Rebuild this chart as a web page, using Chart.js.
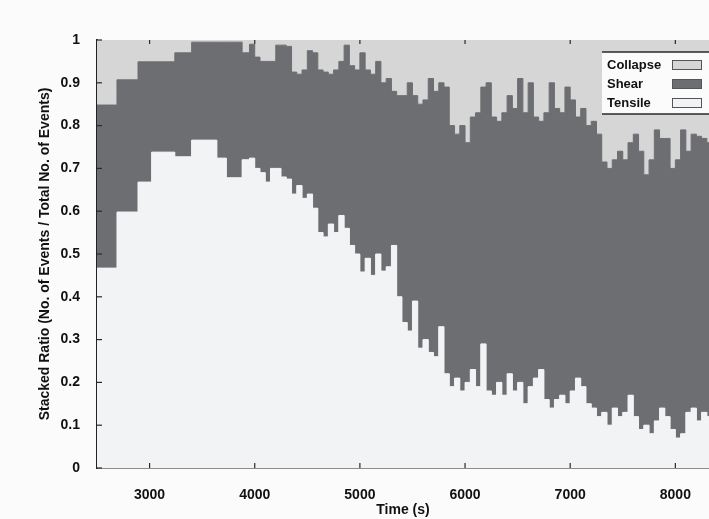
<!DOCTYPE html>
<html>
<head>
<meta charset="utf-8">
<script src="https://cdn.jsdelivr.net/npm/chart.js@4/dist/chart.umd.min.js"></script>
<style>
  body { margin: 0; background: #fbfbfb; }
  #box { width: 709px; height: 519px; }
</style>
</head>
<body>
<div id="box"><canvas id="ratioChart"></canvas></div>
<script>
// Tempos (s) de cada intervalo
const tempos = [
    2500, 2690, 2890, 3020, 3240, 3400, 3640, 3730, 3880, 3950,
    4000, 4050, 4100, 4150, 4200, 4250, 4300, 4350, 4400, 4450,
    4500, 4550, 4600, 4650, 4700, 4750, 4800, 4850, 4900, 4950,
    5000, 5050, 5100, 5150, 5200, 5250, 5300, 5350, 5400, 5450,
    5500, 5550, 5600, 5650, 5700, 5750, 5800, 5850, 5900, 5950,
    6000, 6050, 6100, 6150, 6200, 6250, 6300, 6350, 6400, 6450,
    6500, 6550, 6600, 6650, 6700, 6750, 6800, 6850, 6900, 6950,
    7000, 7050, 7100, 7150, 7200, 7250, 7300, 7350, 7400, 7450,
    7500, 7550, 7600, 7650, 7700, 7750, 7800, 7850, 7900, 7950,
    8000, 8050, 8100, 8150, 8200, 8250, 8300, 8350
];

// Razão de eventos por tipo
const tensile = [
    0.467, 0.598, 0.668, 0.738, 0.727, 0.766, 0.724, 0.678, 0.72, 0.724,
    0.70, 0.69, 0.668, 0.70, 0.70, 0.68, 0.675, 0.64, 0.66, 0.63,
    0.64, 0.607, 0.55, 0.54, 0.57, 0.55, 0.59, 0.56, 0.52, 0.50,
    0.458, 0.49, 0.45, 0.50, 0.46, 0.47, 0.52, 0.40, 0.34, 0.32,
    0.39, 0.28, 0.30, 0.27, 0.26, 0.33, 0.22, 0.19, 0.21, 0.18,
    0.20, 0.23, 0.19, 0.29, 0.18, 0.17, 0.20, 0.17, 0.22, 0.18,
    0.20, 0.15, 0.19, 0.21, 0.23, 0.16, 0.14, 0.16, 0.17, 0.15,
    0.18, 0.21, 0.19, 0.15, 0.14, 0.12, 0.13, 0.10, 0.14, 0.12,
    0.13, 0.17, 0.12, 0.09, 0.10, 0.08, 0.11, 0.14, 0.12, 0.09,
    0.07, 0.08, 0.13, 0.14, 0.11, 0.13, 0.12, 0.12
];

const shear = [
    0.381, 0.309, 0.281, 0.211, 0.243, 0.229, 0.271, 0.317, 0.25, 0.266,
    0.26, 0.26, 0.282, 0.25, 0.288, 0.308, 0.31, 0.285, 0.26, 0.30,
    0.335, 0.363, 0.38, 0.385, 0.35, 0.38, 0.36, 0.428, 0.42, 0.43,
    0.512, 0.44, 0.47, 0.45, 0.44, 0.44, 0.36, 0.47, 0.53, 0.58,
    0.48, 0.57, 0.56, 0.64, 0.62, 0.57, 0.67, 0.61, 0.57, 0.62,
    0.56, 0.59, 0.64, 0.60, 0.72, 0.65, 0.61, 0.66, 0.65, 0.66,
    0.71, 0.68, 0.71, 0.61, 0.58, 0.67, 0.76, 0.68, 0.66, 0.74,
    0.68, 0.61, 0.65, 0.65, 0.67, 0.66, 0.585, 0.60, 0.58, 0.62,
    0.59, 0.59, 0.66, 0.65, 0.585, 0.64, 0.68, 0.63, 0.65, 0.61,
    0.65, 0.71, 0.61, 0.64, 0.665, 0.64, 0.64, 0.64
];

const collapse = [
    0.152, 0.093, 0.051, 0.051, 0.030, 0.005, 0.005, 0.005, 0.03, 0.01,
    0.04, 0.05, 0.05, 0.05, 0.012, 0.012, 0.015, 0.075, 0.08, 0.07,
    0.025, 0.03, 0.07, 0.075, 0.08, 0.07, 0.05, 0.012, 0.06, 0.07,
    0.03, 0.07, 0.08, 0.05, 0.10, 0.09, 0.12, 0.13, 0.13, 0.10,
    0.13, 0.15, 0.14, 0.09, 0.12, 0.10, 0.11, 0.20, 0.22, 0.20,
    0.24, 0.18, 0.17, 0.11, 0.10, 0.18, 0.19, 0.17, 0.13, 0.16,
    0.09, 0.17, 0.10, 0.18, 0.19, 0.17, 0.10, 0.16, 0.17, 0.11,
    0.14, 0.18, 0.16, 0.20, 0.19, 0.22, 0.285, 0.30, 0.28, 0.26,
    0.28, 0.24, 0.22, 0.26, 0.315, 0.28, 0.21, 0.23, 0.23, 0.30,
    0.28, 0.21, 0.26, 0.22, 0.225, 0.23, 0.24, 0.24
];

const xTicks = [3000, 4000, 5000, 6000, 7000, 8000];

const fonte = { family: '"Liberation Sans", Arial, sans-serif', weight: 'bold' };

function serie(label, valores, cor) {
    return {
        label: label,
        data: tempos.map((t, i) => ({ x: t, y: valores[i] })),
        stepped: 'before',   // cada valor vale até o próximo tempo
        backgroundColor: cor,
        borderColor: cor,
        borderWidth: 1,
        pointRadius: 0,
        fill: label === 'Tensile' ? 'origin' : '-1'
    };
}

// Legenda dentro do gráfico (canto superior direito) + marcas dos eixos
const legendaInterna = {
    id: 'legendaInterna',
    afterDatasetsDraw(chart) {
        const ctx = chart.ctx;
        const area = chart.chartArea;
        const xs = chart.scales.x, ys = chart.scales.y;
        ctx.save();

        // marcas dos eixos para dentro
        ctx.strokeStyle = '#2a2a2a';
        ctx.lineWidth = 1.2;
        ys.ticks.forEach(t => {
            const py = ys.getPixelForValue(t.value);
            ctx.beginPath(); ctx.moveTo(area.left, py); ctx.lineTo(area.left + 5, py); ctx.stroke();
        });
        xs.ticks.forEach(t => {
            const px = xs.getPixelForValue(t.value);
            ctx.beginPath(); ctx.moveTo(px, area.bottom); ctx.lineTo(px, area.bottom - 5); ctx.stroke();
            ctx.beginPath(); ctx.moveTo(px, area.top); ctx.lineTo(px, area.top + 4); ctx.stroke();
        });

        // caixa
        const bx = 602, by = 52, bw = area.right - bx, bh = 62;
        ctx.fillStyle = '#fbfbfb';
        ctx.fillRect(bx, by, bw, bh);
        ctx.lineWidth = 1.5;
        ctx.beginPath();
        ctx.moveTo(bx, by); ctx.lineTo(area.right, by);
        ctx.moveTo(bx, by + bh); ctx.lineTo(area.right, by + bh);
        ctx.stroke();

        const itens = chart.data.datasets.slice().reverse();
        ctx.font = 'bold 13px "Liberation Sans", Arial, sans-serif';
        ctx.textBaseline = 'middle';
        ctx.textAlign = 'left';
        itens.forEach((ds, i) => {
            const ly = by + 13 + i * 19;
            ctx.fillStyle = '#111';
            ctx.fillText(ds.label, 607, ly);
            ctx.fillStyle = ds.backgroundColor;
            ctx.fillRect(672, ly - 5, 30, 10);
            ctx.strokeStyle = '#555';
            ctx.lineWidth = 1;
            ctx.strokeRect(672.5, ly - 4.5, 29, 9);
        });
        ctx.restore();
    }
};

const ctxRatio = document.getElementById('ratioChart').getContext('2d');
const ratioChart = new Chart(ctxRatio, {
    type: 'line',
    data: {
        datasets: [
            serie('Tensile', tensile, '#f2f3f4'),
            serie('Shear', shear, '#6c6e71'),
            serie('Collapse', collapse, '#d6d6d6')
        ]
    },
    options: {
        responsive: true,
        maintainAspectRatio: false,
        animation: false,
        layout: { padding: { left: 33, top: 40, right: 0, bottom: 0 } },
        plugins: {
            legend: { display: false },
            tooltip: { enabled: false }
        },
        scales: {
            x: {
                type: 'linear',
                min: 2500,
                max: 8320,
                afterBuildTicks: scale => { scale.ticks = xTicks.map(v => ({ value: v })); },
                afterFit: scale => { scale.height = 51; },
                grid: { display: false },
                border: { display: true, color: '#222', width: 1.6 },
                ticks: {
                    color: '#111',
                    padding: 11,
                    maxRotation: 0,
                    font: Object.assign({ size: 14 }, fonte),
                    callback: v => String(v)
                },
                title: {
                    display: true,
                    text: 'Time (s)',
                    color: '#111',
                    padding: { top: 0, bottom: 0 },
                    font: Object.assign({ size: 14 }, fonte)
                }
            },
            y: {
                stacked: true,
                min: 0,
                max: 1,
                afterFit: scale => { scale.width = 64; },
                grid: { display: false },
                border: { display: true, color: '#222', width: 1.6 },
                ticks: {
                    stepSize: 0.1,
                    color: '#111',
                    padding: 9,
                    font: Object.assign({ size: 14 }, fonte),
                    callback: v => String(Math.round(v * 10) / 10)
                },
                title: {
                    display: true,
                    text: 'Stacked Ratio (No. of Events / Total No. of Events)',
                    color: '#111',
                    font: Object.assign({ size: 14 }, fonte)
                }
            }
        }
    },
    plugins: [legendaInterna]
});
</script>
</body>
</html>
